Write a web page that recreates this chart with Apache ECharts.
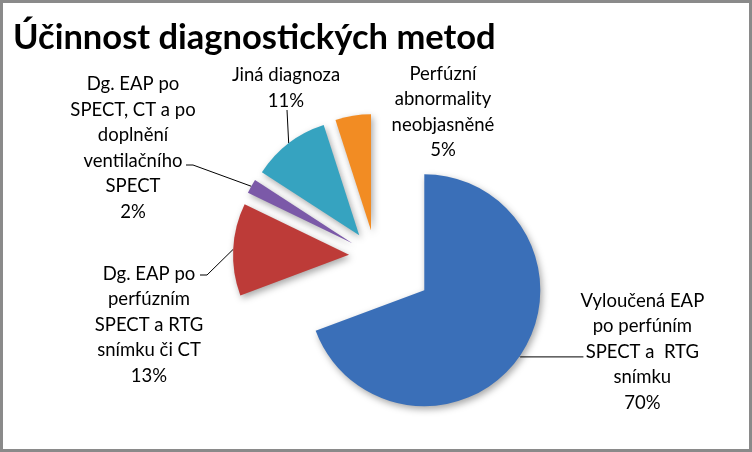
<!DOCTYPE html>
<html>
<head>
<meta charset="utf-8">
<script src="https://cdn.jsdelivr.net/npm/echarts@6/dist/echarts.min.js"></script>
<style>
  html, body { margin: 0; padding: 0; background: #fff; }
  #chart { width: 746px; height: 446px; border: 3px solid #8a8a8a; }
</style>
</head>
<body>
<div id="chart"></div>
<script>
  // chart values
  var title = 'Účinnost diagnostických metod';
  var categories = [
    'Vyloučená EAP\npo perfúním\nSPECT a  RTG\nsnímku',
    'Dg. EAP po\nperfúzním\nSPECT a RTG\nsnímku či CT',
    'Dg. EAP po\nSPECT, CT a po\ndoplnění\nventilačního\nSPECT',
    'Jiná diagnoza',
    'Perfúzní\nabnormality\nneobjasněné'
  ];
  var percents = [70, 13, 2, 11, 5];
  var colors = ['#3a6fb8', '#bd3b38', '#7b59a8', '#36a3c0', '#f28c23'];

  var CENTER = [372, 253], R = 116;
  var BIG_PULL = 60, SMALL_PULL = 26;

  // label block centres for the small slices + leader bends (relative to the block centre)
  var labelSpots = [null, [146, 322], [130, 145], [283, 85], [440, 109]];
  var leaderBends = [null, [[58, -50], [51, -50]], [[60, 17], [53, 17]], [[1, 22], [1, 22]], null];

  var chart = echarts.init(document.getElementById('chart'));

  function centeredLines(text) {
    return text.split('\n').map(function (l) { return '{c|' + l + '}'; }).join('\n');
  }

  // mode: 'big' = only the 70% slice, 'small' = the rest, 'labels' = invisible ring carrying small labels
  function buildData(mode) {
    return percents.map(function (v, i) {
      var visible = mode === 'big' ? i === 0 : (mode === 'small' ? i !== 0 : false);
      var hasLabel = mode === 'big' ? i === 0 : (mode === 'labels' && i !== 0);
      return {
        name: categories[i],
        value: v,
        selected: mode !== 'labels',
        itemStyle: visible
          ? { color: colors[i], shadowBlur: 7, shadowColor: 'rgba(0,0,0,0.35)', shadowOffsetX: 2, shadowOffsetY: 3 }
          : { color: 'rgba(0,0,0,0)' },
        label: { show: hasLabel },
        labelLine: { show: hasLabel && i !== 4 }
      };
    });
  }

  var txt = { fontFamily: 'Lato', fontSize: 18.5, lineHeight: 25.5, color: '#000' };
  var labelStyle = echarts.util.extend({
    formatter: function (p) { return centeredLines(p.name + '\n' + p.value + '%'); },
    rich: { c: echarts.util.extend({ align: 'center' }, txt) }
  }, txt);

  function pie(extra) {
    return echarts.util.extend({
      type: 'pie',
      center: CENTER,
      radius: R,
      startAngle: 90,
      clockwise: true,
      selectedMode: 'multiple',
      animation: false,
      silent: true,
      avoidLabelOverlap: false,
      label: labelStyle,
      labelLine: { lineStyle: { color: '#000', width: 1 }, length: 1, length2: 63 }
    }, extra);
  }

  chart.setOption({
    backgroundColor: '#fff',
    title: {
      text: title,
      left: 5,
      top: 12,
      textStyle: { fontFamily: 'Lato', fontWeight: 'bold', fontSize: 34.5, color: '#000' }
    },
    series: [
      pie({
        selectedOffset: BIG_PULL,
        data: buildData('big'),
        label: echarts.util.extend({ distanceToLabelLine: -3, padding: [0, 0, 10, 0] }, labelStyle)
      }),
      pie({ selectedOffset: SMALL_PULL, data: buildData('small') }),
      // same slices on a ring as wide as the pulled-out pieces, used only for their labels
      pie({
        radius: R + SMALL_PULL,
        data: buildData('labels'),
        labelLayout: function (p) {
          var s = labelSpots[p.dataIndex];
          if (!s) return {};
          var out = { x: s[0], y: s[1], align: 'center', verticalAlign: 'middle' };
          var b = leaderBends[p.dataIndex];
          if (b && p.labelLinePoints) {
            out.labelLinePoints = [p.labelLinePoints[0]].concat(b.map(function (d) {
              return [s[0] + d[0], s[1] + d[1]];
            }));
          }
          return out;
        }
      })
    ]
  });
</script>
</body>
</html>
